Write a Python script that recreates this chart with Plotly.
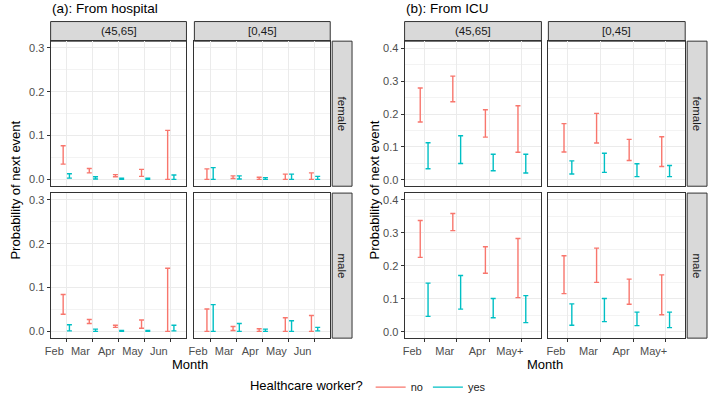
import plotly.graph_objects as go

# ---------------- data ----------------
months_a = ["Feb", "Mar", "Apr", "May", "Jun"]
months_b = ["Feb", "Mar", "Apr", "May+"]
age_groups = ["(45,65]", "[0,45]"]
sexes = ["female", "male"]
hcw_levels = ["no", "yes"]

# (lower, upper) per month -- panel (a): From hospital
hosp_female_4565_no = [(0.035, 0.077), (0.015, 0.025), (0.006, 0.011), (0.007, 0.023), (0.0, 0.112)]
hosp_female_4565_yes = [(0.003, 0.013), (0.001, 0.006), (0.0, 0.003), (0.0, 0.003), (0.0, 0.010)]
hosp_female_045_no = [(0.0, 0.024), (0.002, 0.008), (0.0, 0.005), (0.0, 0.012), (0.0, 0.015)]
hosp_female_045_yes = [(0.0, 0.027), (0.001, 0.008), (0.0, 0.004), (0.0, 0.012), (0.0, 0.007)]
hosp_male_4565_no = [(0.039, 0.084), (0.018, 0.027), (0.009, 0.014), (0.007, 0.026), (0.0, 0.144)]
hosp_male_4565_yes = [(0.001, 0.015), (0.0, 0.005), (0.0, 0.002), (0.0, 0.002), (0.001, 0.014)]
hosp_male_045_no = [(0.0, 0.051), (0.002, 0.011), (0.0, 0.006), (0.0, 0.031), (0.0, 0.036)]
hosp_male_045_yes = [(0.0, 0.061), (0.0, 0.018), (0.0, 0.005), (0.0, 0.024), (0.001, 0.009)]

# panel (b): From ICU
icu_female_4565_no = [(0.176, 0.279), (0.237, 0.315), (0.130, 0.213), (0.084, 0.225)]
icu_female_4565_yes = [(0.034, 0.113), (0.050, 0.134), (0.028, 0.078), (0.021, 0.078)]
icu_female_045_no = [(0.085, 0.171), (0.112, 0.202), (0.059, 0.123), (0.041, 0.131)]
icu_female_045_yes = [(0.018, 0.058), (0.023, 0.081), (0.010, 0.049), (0.010, 0.044)]
icu_male_4565_no = [(0.226, 0.338), (0.307, 0.359), (0.178, 0.258), (0.104, 0.283)]
icu_male_4565_yes = [(0.047, 0.148), (0.069, 0.171), (0.043, 0.101), (0.028, 0.110)]
icu_male_045_no = [(0.116, 0.231), (0.150, 0.254), (0.084, 0.160), (0.052, 0.173)]
icu_male_045_yes = [(0.020, 0.085), (0.031, 0.101), (0.019, 0.060), (0.013, 0.060)]

# ---------------- styling / layout ----------------
W, H = 708, 402
FONT = "Liberation Sans, Arial, Helvetica, sans-serif"
COLORS = {"no": "#F8766D", "yes": "#00BFC4"}
DODGE = 0.12


def fx(px):
    return px / W


def fy(py):
    return 1 - py / H


panel_data = {
    "a": {
        "title": "(a): From hospital",
        "months": months_a,
        "cols": [(45, 182), (190, 327)],
        "strip_x": (329, 349),
        "yrange": [-0.0155, 0.3155],
        "ytick": [0, 0.1, 0.2, 0.3],
        "ytitle_x": 10,
        "data": {
            ("female", 0): {"no": hosp_female_4565_no, "yes": hosp_female_4565_yes},
            ("female", 1): {"no": hosp_female_045_no, "yes": hosp_female_045_yes},
            ("male", 0): {"no": hosp_male_4565_no, "yes": hosp_male_4565_yes},
            ("male", 1): {"no": hosp_male_045_no, "yes": hosp_male_045_yes},
        },
    },
    "b": {
        "title": "(b): From ICU",
        "months": months_b,
        "cols": [(402, 540), (547, 685)],
        "strip_x": (687, 707),
        "yrange": [-0.019, 0.421],
        "ytick": [0, 0.1, 0.2, 0.3, 0.4],
        "ytitle_x": 372,
        "data": {
            ("female", 0): {"no": icu_female_4565_no, "yes": icu_female_4565_yes},
            ("female", 1): {"no": icu_female_045_no, "yes": icu_female_045_yes},
            ("male", 0): {"no": icu_male_4565_no, "yes": icu_male_4565_yes},
            ("male", 1): {"no": icu_male_045_no, "yes": icu_male_045_yes},
        },
    },
}
rows = [(42, 190), (197, 345)]
strip_top = (22, 42)

fig = go.Figure()
layout = {}
shapes = []
annotations = []
k = 0
for pkey in ["a", "b"]:
    P = panel_data[pkey]
    nm = len(P["months"])
    for r, sex in enumerate(sexes):
        for c in range(2):
            k += 1
            xa = "xaxis" if k == 1 else f"xaxis{k}"
            ya = "yaxis" if k == 1 else f"yaxis{k}"
            xref = "x" if k == 1 else f"x{k}"
            yref = "y" if k == 1 else f"y{k}"
            x0, x1 = P["cols"][c]
            y0, y1 = rows[r]
            layout[xa] = dict(
                domain=[fx(x0), fx(x1)], anchor=yref, range=[-0.6, nm - 0.4],
                tickmode="array", tickvals=list(range(nm)), ticktext=P["months"],
                showticklabels=(r == 1), ticks="outside" if r == 1 else "",
                ticklen=3, tickcolor="#333333", ticklabelshift=-12,
                showgrid=True, gridcolor="#EBEBEB", gridwidth=1, zeroline=False,
                showline=True, mirror=True, linecolor="#333333", linewidth=1,
                tickfont=dict(size=11, color="#4D4D4D", family=FONT),
            )
            layout[ya] = dict(
                domain=[fy(y1), fy(y0)], anchor=xref, range=P["yrange"],
                tickmode="array", tickvals=P["ytick"],
                ticktext=[f"{v:.1f}" for v in P["ytick"]],
                showticklabels=(c == 0), ticks="outside" if c == 0 else "",
                ticklen=3, tickcolor="#333333",
                showgrid=True, gridcolor="#EBEBEB", gridwidth=1, zeroline=False,
                minor=dict(showgrid=True, gridcolor="#F3F3F3", gridwidth=0.6,
                           tickmode="array",
                           tickvals=[v + 0.05 for v in P["ytick"]] + [-0.05]),
                showline=True, mirror=True, linecolor="#333333", linewidth=1,
                tickfont=dict(size=11, color="#4D4D4D", family=FONT),
            )
            for h in hcw_levels:
                vals = P["data"][(sex, c)][h]
                lo = [v[0] for v in vals]
                hi = [v[1] for v in vals]
                off = -DODGE if h == "no" else DODGE
                fig.add_trace(go.Scatter(
                    x=[i + off for i in range(nm)], y=lo, mode="markers",
                    marker=dict(size=1, color="rgba(0,0,0,0)"),
                    error_y=dict(type="data", symmetric=False,
                                 array=[b - a for a, b in zip(lo, hi)],
                                 arrayminus=[0] * nm, color=COLORS[h],
                                 thickness=1.4, width=2.5),
                    xaxis=xref, yaxis=yref, showlegend=False, hoverinfo="skip",
                ))
            # top strips
            if r == 0:
                shapes.append(dict(type="rect", xref="paper", yref="paper",
                                   x0=fx(x0), x1=fx(x1), y0=fy(strip_top[1]), y1=fy(strip_top[0]),
                                   fillcolor="#D9D9D9", line=dict(color="#333333", width=1), layer="below"))
                annotations.append(dict(text=age_groups[c], xref="paper", yref="paper",
                                        x=fx((x0 + x1) / 2), y=fy(sum(strip_top) / 2),
                                        showarrow=False, xanchor="center", yanchor="middle",
                                        font=dict(size=11.5, color="#1A1A1A", family=FONT)))
        # right strip
        sx0, sx1 = P["strip_x"]
        y0, y1 = rows[r]
        shapes.append(dict(type="rect", xref="paper", yref="paper",
                           x0=fx(sx0), x1=fx(sx1), y0=fy(y1), y1=fy(y0),
                           fillcolor="#D9D9D9", line=dict(color="#333333", width=1), layer="below"))
        annotations.append(dict(text=sex, xref="paper", yref="paper",
                                x=fx((sx0 + sx1) / 2), y=fy((y0 + y1) / 2), textangle=90,
                                showarrow=False, xanchor="center", yanchor="middle",
                                font=dict(size=11.5, color="#1A1A1A", family=FONT)))
    # panel title
    annotations.append(dict(text=P["title"], xref="paper", yref="paper",
                            x=fx(P["cols"][0][0] - 1), y=fy(9), showarrow=False,
                            xanchor="left", yanchor="middle",
                            font=dict(size=13.5, color="black", family=FONT)))
    # y title
    annotations.append(dict(text="Probability of next event", xref="paper", yref="paper",
                            x=fx(P["ytitle_x"]), y=fy((rows[0][0] + rows[1][1]) / 2),
                            textangle=-90, showarrow=False, xanchor="center", yanchor="middle",
                            font=dict(size=13, color="black", family=FONT)))
    # x title
    annotations.append(dict(text="Month", xref="paper", yref="paper",
                            x=fx((P["cols"][0][0] + P["cols"][1][1]) / 2), y=fy(372),
                            showarrow=False, xanchor="center", yanchor="middle",
                            font=dict(size=13, color="black", family=FONT)))

# legend entries
for h in hcw_levels:
    fig.add_trace(go.Scatter(x=[None], y=[None], mode="lines", name=h,
                             line=dict(color=COLORS[h], width=1.4),
                             xaxis="x", yaxis="y", showlegend=True))

fig.update_layout(
    width=W, height=H,
    margin=dict(l=0, r=0, t=0, b=0),
    paper_bgcolor="white", plot_bgcolor="white",
    font=dict(family=FONT),
    shapes=shapes, annotations=annotations,
    showlegend=True,
    legend=dict(orientation="h", x=fx(244), xanchor="left", y=fy(395), yanchor="middle",
                title=dict(text="Healthcare worker?", font=dict(size=13, color="black", family=FONT)),
                font=dict(size=11, color="#1A1A1A", family=FONT),
                itemwidth=30, bgcolor="rgba(0,0,0,0)"),
    **layout,
)

fig.write_html(
    "out.html",
    config={"displayModeBar": False},
    post_script="document.body.style.margin='0';document.body.style.overflow='hidden';",
)
